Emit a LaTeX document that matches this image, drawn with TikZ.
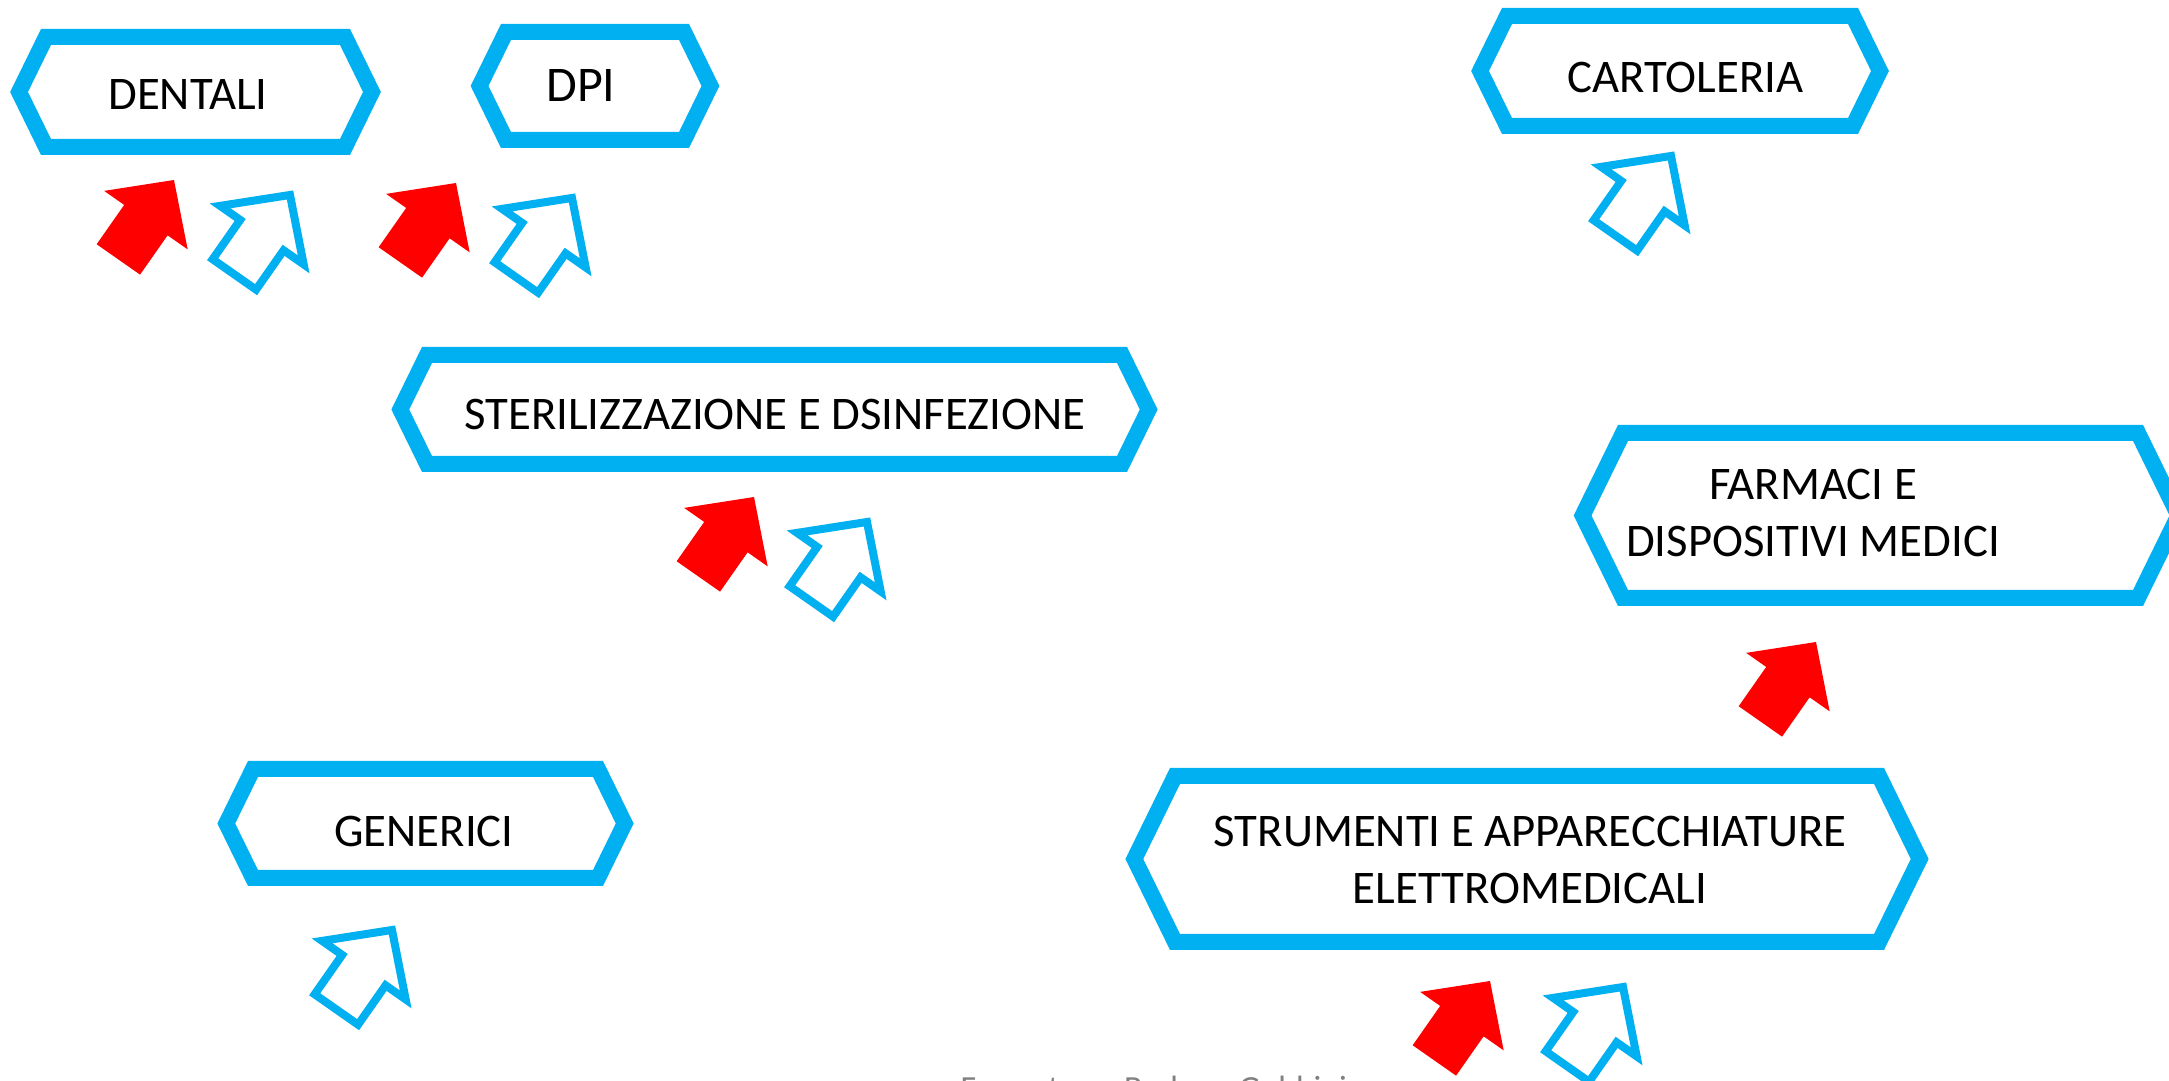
\documentclass[tikz,border=0pt]{standalone}
\usepackage{fontspec}
\setmainfont{Carlito}

\definecolor{hexblue}{RGB}{0,176,240}
\definecolor{arrred}{RGB}{255,0,0}
\definecolor{footgray}{RGB}{128,128,128}

% centre x, centre y, half width at the corners, half height
\newcommand{\hexagon}[4]{%
  \draw[hexline] ({#1-#3},{#2+#4}) -- ({#1+#3},{#2+#4}) -- ({#1+#3+0.49*#4},{#2})
    -- ({#1+#3},{#2-#4}) -- ({#1-#3},{#2-#4}) -- ({#1-#3-0.49*#4},{#2}) -- cycle;}

\tikzset{
  hexline/.style={draw=hexblue, line width=0.16cm, line join=miter},
  boxtext/.style={font=\fontsize{13.3}{16.5}\selectfont, align=center, inner sep=0pt},
  blockarrow/.pic={\path[pic actions] (0,0) -- (-0.51,-0.49) -- (-0.265,-0.49)
    -- (-0.265,-0.97) -- (0.265,-0.97) -- (0.265,-0.49) -- (0.51,-0.49) -- cycle;},
  redarr/.style={fill=arrred},
  bluearr/.style={draw=hexblue, line width=0.08cm, fill=white, line join=miter},
}

\begin{document}
\begin{tikzpicture}
  \fill[white] (0,0) rectangle (21.69,10.80);
  \useasboundingbox (0,0) rectangle (21.69,10.80);

  \hexagon{1.955}{9.88}{1.495}{0.55}
  \hexagon{5.95}{9.94}{0.89}{0.54}
  \hexagon{16.80}{10.09}{1.73}{0.55}
  \hexagon{7.745}{6.705}{3.475}{0.545}
  \hexagon{18.805}{5.645}{2.575}{0.825}
  \hexagon{4.255}{2.565}{1.725}{0.545}
  \hexagon{15.27}{2.21}{3.52}{0.83}

  \node[boxtext] (dentali) at (1.88,9.85) {DENTALI};
  \node[boxtext, font=\fontsize{14.2}{17}\selectfont] (dpi) at (5.81,9.94) {DPI};
  \node[boxtext] (cartoleria) at (16.855,10.02) {CARTOLERIA};
  \node[boxtext] (steril) at (7.75,6.65) {STERILIZZAZIONE E DSINFEZIONE};
  \node[boxtext] (farmaci) at (18.13,5.67) {FARMACI E\\DISPOSITIVI MEDICI};
  \node[boxtext] (generici) at (4.24,2.49) {GENERICI};
  \node[boxtext] (strumenti) at (15.30,2.20) {STRUMENTI E APPARECCHIATURE\\ELETTROMEDICALI};

  \pic[redarr, rotate=-35] (rdentali) at (1.74,9.00) {blockarrow};
  \pic[redarr, rotate=-35] (rdpi) at (4.56,8.97) {blockarrow};
  \pic[redarr, rotate=-35] (rsteril) at (7.54,5.83) {blockarrow};
  \pic[redarr, rotate=-35] (rfarmaci) at (18.16,4.38) {blockarrow};
  \pic[redarr, rotate=-35] (rstrumenti) at (14.90,0.99) {blockarrow};

  \pic[bluearr, rotate=-35] (bdentali) at (2.90,8.85) {blockarrow};
  \pic[bluearr, rotate=-35] (bdpi) at (5.72,8.82) {blockarrow};
  \pic[bluearr, rotate=-35] (bcartoleria) at (16.71,9.24) {blockarrow};
  \pic[bluearr, rotate=-35] (bsteril) at (8.67,5.58) {blockarrow};
  \pic[bluearr, rotate=-35] (bgenerici) at (3.92,1.50) {blockarrow};
  \pic[bluearr, rotate=-35] (bstrumenti) at (16.23,0.93) {blockarrow};

  \node[anchor=base west, text=footgray, inner sep=0pt, font=\fontsize{9.6}{11}\selectfont]
    (fonte) at (9.60,-0.19) {Formatore: Barbara Gobbini};
\end{tikzpicture}
\end{document}
